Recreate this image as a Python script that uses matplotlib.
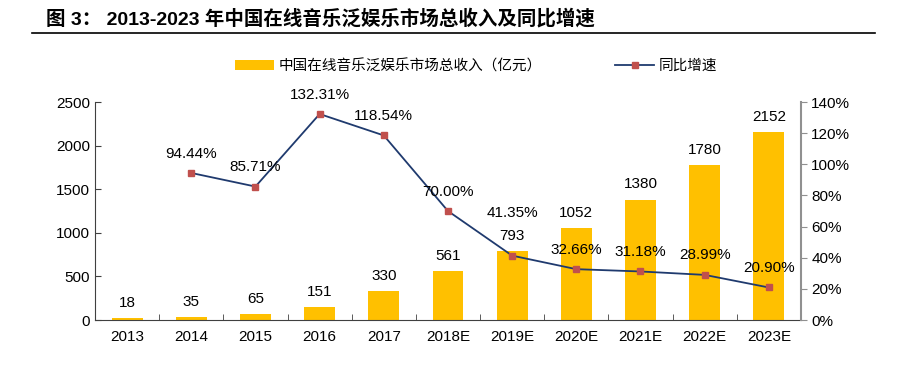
import numpy as np
import matplotlib
matplotlib.use("Agg")
import matplotlib.pyplot as plt
from matplotlib.lines import Line2D

plt.rcParams['font.family'] = ['Liberation Sans', 'Noto Sans CJK SC', 'DejaVu Sans']

# data
years = ['2013', '2014', '2015', '2016', '2017', '2018E', '2019E',
         '2020E', '2021E', '2022E', '2023E']
revenue = [18, 35, 65, 151, 330, 561, 793, 1052, 1380, 1780, 2152]
growth = [np.nan, 94.44, 85.71, 132.31, 118.54, 70.00, 41.35,
          32.66, 31.18, 28.99, 20.90]

bar_name = '中国在线音乐泛娱乐市场总收入（亿元）'
line_name = '同比增速'

fig = plt.figure(figsize=(9.05, 3.67), dpi=100)
ax = fig.add_axes([0.105, 0.128, 0.78, 0.594])
ax2 = ax.twinx()

x = np.arange(len(years))
ax.bar(x, revenue, width=0.48, color='#FFC000', label=bar_name, zorder=2)
ax.set_xlim(-0.5, len(years) - 0.5)
ax.set_ylim(0, 2500)
ax.set_yticks(range(0, 2501, 500))
ax.set_xticks(x)
ax.set_xticklabels(years)
ax.set_xticks(np.arange(-0.5, len(years), 1), minor=True)
ax.tick_params(axis='x', which='major', length=0, labelsize=11, pad=7)
ax.tick_params(axis='x', which='minor', direction='in', length=4, color='#404040')
ax.tick_params(axis='y', direction='in', length=4, labelsize=11, color='#404040')

for xi, v in zip(x, revenue):
    ax.annotate(str(v), (xi, v), xytext=(0, 11), textcoords='offset points',
                ha='center', va='center', fontsize=11)

ax2.plot(x, growth, color='#1F3A6E', lw=1.3, marker='s', ms=5,
         mfc='#C0504D', mec='#C0504D', label=line_name, zorder=3)
ax2.set_ylim(0, 140)
ax2.set_yticks(range(0, 141, 20))
ax2.set_yticklabels([f'{t}%' for t in range(0, 141, 20)])
ax2.tick_params(axis='y', direction='out', length=4, labelsize=11, color='#909090')

for xi, g in zip(x, growth):
    if np.isnan(g):
        continue
    dy = 31 if years[xi] == '2019E' else 14
    ax2.annotate(f'{g:.2f}%', (xi, g), xytext=(0, dy), textcoords='offset points',
                 ha='center', va='center', fontsize=11)

for a in (ax, ax2):
    a.spines['top'].set_visible(False)
ax.spines['left'].set_color('#404040')
ax.spines['bottom'].set_color('#404040')
ax.spines['right'].set_visible(False)
ax2.spines['left'].set_visible(False)
ax2.spines['bottom'].set_visible(False)
ax2.spines['right'].set_color('#909090')
ax2.spines['right'].set_linewidth(1.5)

h1, l1 = ax.get_legend_handles_labels()
h2, l2 = ax2.get_legend_handles_labels()
fig.legend(h1 + h2, l1 + l2, loc='center', bbox_to_anchor=(0.526, 0.82), ncol=2,
           frameon=False, columnspacing=5.0, handlelength=2.7, handletextpad=0.3,
           prop={'family': ['Noto Sans CJK SC', 'DejaVu Sans'], 'size': 10.5})

fig.text(0.051, 0.95, '图 3： 2013-2023 年中国在线音乐泛娱乐市场总收入及同比增速',
         fontsize=14, fontweight='bold', ha='left', va='center',
         family=['Liberation Sans', 'Noto Sans CJK SC', 'DejaVu Sans'])
fig.add_artist(Line2D([0.035, 0.967], [0.909, 0.909], color='black', lw=1.2,
                      transform=fig.transFigure))

fig.savefig('out.png', dpi=100)
